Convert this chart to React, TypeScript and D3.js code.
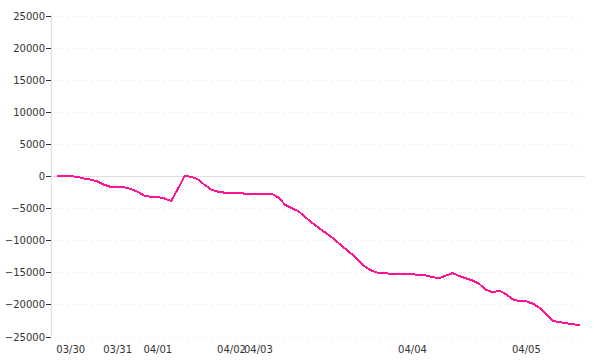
import React from "react";
import * as d3 from "d3";

const values: number[] = [
  0, 0, 0, -150, -390, -560, -840, -1370, -1700, -1700,
  -1750, -2030, -2480, -3060, -3260, -3260, -3500, -3900, -2000, 0,
  -120, -530, -1400, -2140, -2450, -2600, -2620, -2640, -2750, -2750,
  -2750, -2750, -2750, -3340, -4500, -5010, -5500, -6400, -7300, -8050,
  -8820, -9580, -10470, -11360, -12220, -13280, -14180, -14800, -15120, -15170,
  -15220, -15270, -15300, -15330, -15370, -15480, -15750, -15920, -15510, -15120,
  -15590, -15950, -16300, -16830, -17750, -18120, -17870, -18450, -19220, -19520,
  -19520, -19900, -20580, -21590, -22600, -22780, -22940, -23090, -23250,
];

const dayLabels: string[] = ["03/30", "03/31", "04/01", "04/02", "04/03", "04/04", "04/05"];
const dayLabelIndex: number[] = [2, 9, 15, 26, 30, 53, 70];
const yTicks: number[] = [25000, 20000, 15000, 10000, 5000, 0, -5000, -10000, -15000, -20000, -25000];

export default function App() {
  const W = 600, H = 360;
  const axisX = 51.5;
  const gridRight = 583;
  const x = d3.scaleLinear().domain([0, values.length - 1]).range([57.3, 580]);
  const y = d3.scaleLinear().domain([-25000, 25000]).range([336.5, 15.5]);
  const line = d3.line<number>().x((_, i) => x(i)).y((d) => y(d));
  const fmt = d3.format("d");
  const font = "'DejaVu Sans', Verdana, sans-serif";
  return (
    <div style={{ position: "absolute", left: 0, top: 0 }}>
      <svg width={W} height={H} style={{ display: "block" }}>
        <rect width={W} height={H} fill="#fff" />
        {yTicks.map((t) => (
          <g key={t}>
            {t === 0 ? (
              <line x1={axisX} x2={585} y1={Math.round(y(t)) + 0.5} y2={Math.round(y(t)) + 0.5} stroke="#ddd" strokeWidth={1} />
            ) : (
              <line x1={55} x2={gridRight} y1={Math.round(y(t)) + 0.5} y2={Math.round(y(t)) + 0.5} stroke="#eee" strokeWidth={1} strokeDasharray="2,4" />
            )}
            <line x1={46} x2={51} y1={Math.round(y(t)) + 0.5} y2={Math.round(y(t)) + 0.5} stroke="#333" strokeWidth={1} />
            <text x={45} y={Math.round(y(t)) + 4} textAnchor="end" fontFamily={font} fontSize={10} fill="#333">
              {fmt(t).replace("-", "\u2212")}
            </text>
          </g>
        ))}
        <line x1={axisX} x2={axisX} y1={15} y2={336} stroke="#ddd" strokeWidth={1} />
        <path d={line(values) ?? ""} fill="none" stroke="#ff1493" strokeWidth={2} strokeLinejoin="round" shapeRendering="crispEdges" />
        {dayLabels.map((lab, k) => (
          <text key={lab} x={x(dayLabelIndex[k])} y={353} textAnchor="middle" fontFamily={font} fontSize={10} fill="#333">
            {lab}
          </text>
        ))}
      </svg>
    </div>
  );
}
